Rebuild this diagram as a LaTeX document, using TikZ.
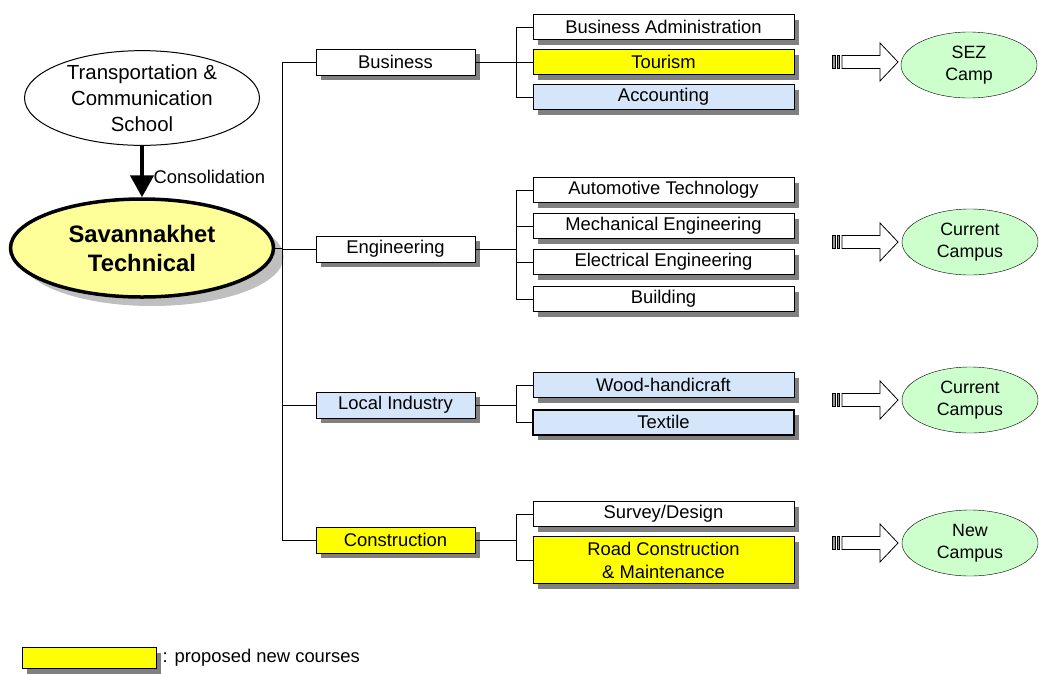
\documentclass[tikz,border=0pt]{standalone}
\usepackage{fontspec}
\setmainfont{Liberation Sans}
\usetikzlibrary{shapes.geometric,shadows,arrows.meta}

\definecolor{newyellow}{RGB}{255,255,0}
\definecolor{paleyellow}{RGB}{255,255,153}
\definecolor{dotblue}{RGB}{214,230,250}
\definecolor{campgreen}{RGB}{204,255,204}

\tikzset{
  course/.style={draw, line width=1pt, fill=white, minimum width=261pt,
    minimum height=25pt, inner sep=0pt, align=center,
    drop shadow={shadow xshift=5pt, shadow yshift=-5pt, fill=black!50, opacity=1}},
  dept/.style={course, minimum width=159pt, minimum height=26pt},
  proposed/.style={fill=newyellow},
  local/.style={fill=dotblue},
  campus/.style={ellipse, draw, fill=campgreen, minimum width=136pt,
    minimum height=66pt, inner sep=0pt, align=center,
    font=\fontsize{17.8}{22}\selectfont},
  % striped block arrow pointing at a campus
  pics/movearrow/.style={code={
    \draw[fill=black!40] (-10,-6.5) rectangle (-7,6.5);
    \draw[fill=black!40] (-5,-6.5) rectangle (-2.5,6.5);
    \draw[fill=white] (0,-6.5) -- (38,-6.5) -- (38,-19) -- (56,0)
      -- (38,19) -- (38,6.5) -- (0,6.5) -- cycle;
  }}
}

\begin{document}
\begin{tikzpicture}[x=1pt, y=-1pt, font=\fontsize{18.4}{23}\selectfont]
  \useasboundingbox (0,0) rectangle (1039,673);

  % Schools
  \node[ellipse, draw, line width=1pt, fill=white, minimum width=235pt,
    minimum height=90pt, inner sep=0pt, align=center,
    font=\fontsize{20.4}{26}\selectfont] (trans) at (142,98)
    {Transportation \&\\Communication\\School};
  \node[ellipse, draw, line width=3.5pt, fill=paleyellow, minimum width=263pt,
    minimum height=98pt, inner sep=0pt, align=center,
    font=\fontsize{23.8}{29}\selectfont\bfseries,
    drop shadow={shadow xshift=10pt, shadow yshift=-9pt, fill=black!25, opacity=1}]
    (sav) at (142,248) {Savannakhet\\Technical};

  \draw[line width=4.5pt, -{Triangle[width=23pt, length=22pt]}] (trans) -- (sav)
    node[pos=0.6, right, xshift=6pt] {Consolidation};

  % Departments
  \node[dept] (bus) at (395.5,62) {Business};
  \node[dept] (eng) at (395.5,249) {Engineering};
  \node[dept, local] (loc) at (395.5,405) {Local Industry};
  \node[dept, proposed] (con) at (395.5,540) {Construction};

  % Courses
  \node[course] (ba) at (663.5,27) {Business Administration};
  \node[course, proposed] (tour) at (663.5,62) {Tourism};
  \node[course, local] (acc) at (663.5,97) {Accounting};
  \node[course] (auto) at (663.5,190) {Automotive Technology};
  \node[course] (mech) at (663.5,226) {Mechanical Engineering};
  \node[course] (elec) at (663.5,262) {Electrical Engineering};
  \node[course] (bld) at (663.5,299) {Building};
  \node[course, local] (wood) at (663.5,385) {Wood-handicraft};
  \node[course, local, line width=2pt] (tex) at (663.5,422) {Textile};
  \node[course] (survey) at (663.5,514) {Survey/Design};
  \node[course, proposed, minimum height=47pt] (road) at (663.5,560)
    {Road Construction\\\& Maintenance};

  % Tree lines
  \coordinate (trunk) at (282,0);
  \coordinate (fork) at (516,0);
  \draw[line width=1pt] (bus.west) -| (trunk |- con.west) -- (con.west);
  \draw[line width=1pt] (sav.east) -- (sav.east -| trunk);
  \foreach \d in {eng,loc}
    \draw[line width=1pt] (\d.west) -- (\d.west -| trunk);
  \foreach \d/\first/\last in {bus/ba/acc, eng/auto/bld, loc/wood/tex, con/survey/road} {
    \draw[line width=1pt] (\d.east) -- (\d.east -| fork);
    \draw[line width=1pt] (\first.west) -| (fork |- \last.west) -- (\last.west);
  }
  \foreach \c in {tour,mech,elec}
    \draw[line width=1pt] (\c.west) -- (\c.west -| fork);

  % Campuses
  \foreach \y in {62,242,400,543}
    \pic[line width=0.8pt] at (842,\y) {movearrow};
  \node[campus] (sez) at (969,65) {SEZ\\Camp};
  \node[campus] (cur1) at (970,242) {Current\\Campus};
  \node[campus] (cur2) at (970,400) {Current\\Campus};
  \node[campus] (newc) at (970,543) {New\\Campus};

  % Legend
  \node[dept, proposed, minimum width=134pt, minimum height=21pt] (key) at (89,658) {};
  \node[right, inner sep=6pt] (keytext) at (key.east) {: proposed new courses};
\end{tikzpicture}
\end{document}
